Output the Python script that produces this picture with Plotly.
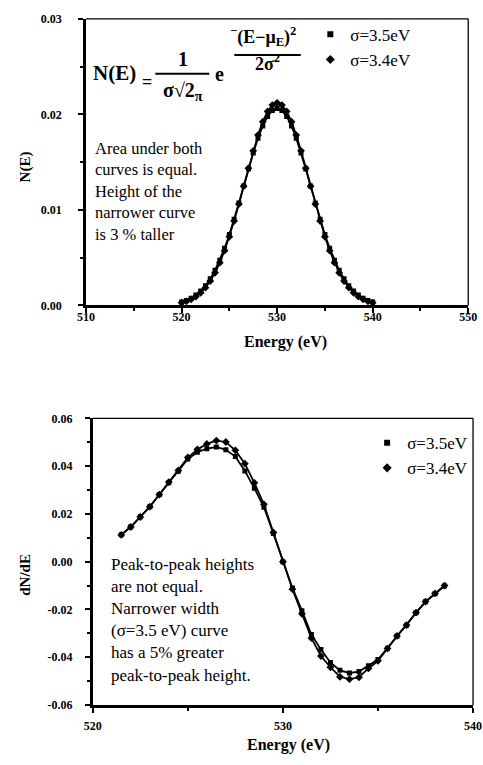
import plotly.graph_objects as go

# ---- data -------------------------------------------------------------
energy_top = [520.0, 520.5, 521.0, 521.5, 522.0, 522.5, 523.0, 523.5, 524.0, 524.5,
              525.0, 525.5, 526.0, 526.5, 527.0, 527.5, 528.0, 528.5, 529.0, 529.5,
              530.0, 530.5, 531.0, 531.5, 532.0, 532.5, 533.0, 533.5, 534.0, 534.5,
              535.0, 535.5, 536.0, 536.5, 537.0, 537.5, 538.0, 538.5, 539.0, 539.5,
              540.0]
n_sigma35 = [0.00035, 0.00052, 0.00076, 0.00108, 0.00151, 0.00207, 0.00279, 0.00367,
             0.00474, 0.00599, 0.00743, 0.00901, 0.01072, 0.01249, 0.01427, 0.01596,
             0.01750, 0.01879, 0.01978, 0.02039, 0.02060, 0.02039, 0.01978, 0.01879,
             0.01750, 0.01596, 0.01427, 0.01249, 0.01072, 0.00901, 0.00743, 0.00599,
             0.00474, 0.00367, 0.00279, 0.00207, 0.00151, 0.00108, 0.00076, 0.00052,
             0.00035]
n_sigma34 = [0.00028, 0.00043, 0.00064, 0.00093, 0.00133, 0.00186, 0.00255, 0.00341,
             0.00447, 0.00573, 0.00719, 0.00883, 0.01061, 0.01248, 0.01436, 0.01618,
             0.01783, 0.01923, 0.02030, 0.02097, 0.02120, 0.02097, 0.02030, 0.01923,
             0.01783, 0.01618, 0.01436, 0.01248, 0.01061, 0.00883, 0.00719, 0.00573,
             0.00447, 0.00341, 0.00255, 0.00186, 0.00133, 0.00093, 0.00064, 0.00043,
             0.00028]

energy_bottom = [521.5, 522.0, 522.5, 523.0, 523.5, 524.0, 524.5, 525.0, 525.5, 526.0,
                 526.5, 527.0, 527.5, 528.0, 528.5, 529.0, 529.5, 530.0, 530.5, 531.0,
                 531.5, 532.0, 532.5, 533.0, 533.5, 534.0, 534.5, 535.0, 535.5, 536.0,
                 536.5, 537.0, 537.5, 538.0, 538.5]
dn_sigma35 = [0.0113, 0.0146, 0.0188, 0.0230, 0.0280, 0.0330, 0.0378, 0.0430, 0.0458,
              0.0473, 0.0480, 0.0468, 0.0440, 0.0380, 0.0307, 0.0228, 0.0118, 0.0000,
              -0.0110, -0.0205, -0.0305, -0.0368, -0.0422, -0.0455, -0.0466, -0.0460,
              -0.0436, -0.0410, -0.0362, -0.0312, -0.0266, -0.0214, -0.0168, -0.0134,
              -0.0102]
dn_sigma34 = [0.0112, 0.0145, 0.0187, 0.0230, 0.0281, 0.0333, 0.0382, 0.0436, 0.0470,
              0.0493, 0.0507, 0.0501, 0.0466, 0.0410, 0.0330, 0.0240, 0.0122, 0.0000,
              -0.0115, -0.0218, -0.0320, -0.0395, -0.0442, -0.0482, -0.0492, -0.0484,
              -0.0447, -0.0415, -0.0364, -0.0311, -0.0266, -0.0213, -0.0167, -0.0133,
              -0.0100]

series_names = ["σ=3.5eV", "σ=3.4eV"]

top_xticks = [510, 520, 530, 540, 550]
top_yticks = [0.0, 0.01, 0.02, 0.03]
top_ytext = ["0.00", "0.01", "0.02", "0.03"]
bot_xticks = [520, 530, 540]
bot_yticks = [-0.06, -0.04, -0.02, 0.0, 0.02, 0.04, 0.06]
bot_ytext = ["-0.06", "-0.04", "-0.02", "0.00", "0.02", "0.04", "0.06"]

# ---- layout helpers -----------------------------------------------------
W, H = 483, 765
SERIF = "'Liberation Serif', 'Times New Roman', Times, serif"


def px(x, y):
    """pixel position -> paper fraction"""
    return x / W, 1 - y / H


fig = go.Figure()

line_style = dict(color="black", width=1.8)
sq = dict(symbol="square", size=5, color="black")
dm = dict(symbol="diamond", size=6, color="black")

# upper panel: N(E)
fig.add_trace(go.Scatter(x=energy_top, y=n_sigma35, mode="lines+markers", line=line_style,
                         marker=sq, showlegend=False, xaxis="x", yaxis="y"))
fig.add_trace(go.Scatter(x=energy_top, y=n_sigma34, mode="lines+markers", line=line_style,
                         marker=dm, showlegend=False, xaxis="x", yaxis="y"))
# lower panel: dN/dE
fig.add_trace(go.Scatter(x=energy_bottom, y=dn_sigma35, mode="lines+markers", line=line_style,
                         marker=sq, showlegend=False, xaxis="x2", yaxis="y2"))
fig.add_trace(go.Scatter(x=energy_bottom, y=dn_sigma34, mode="lines+markers", line=line_style,
                         marker=dm, showlegend=False, xaxis="x2", yaxis="y2"))

# legend entries (marker only)
for leg, xa, ya in (("legend", "x", "y"), ("legend2", "x2", "y2")):
    fig.add_trace(go.Scatter(x=[None], y=[None], mode="markers", marker=dict(sq, size=6),
                             name=series_names[0], legend=leg, xaxis=xa, yaxis=ya))
    fig.add_trace(go.Scatter(x=[None], y=[None], mode="markers", marker=dict(dm, size=7),
                             name=series_names[1], legend=leg, xaxis=xa, yaxis=ya))

tickfont = dict(family=SERIF, size=12, color="black", weight="bold")
common_axis = dict(showline=True, linecolor="black", linewidth=2.5, showgrid=False,
                   zeroline=False, ticks="outside", ticklen=5, tickwidth=1.5,
                   tickcolor="black", tickfont=tickfont, fixedrange=True,
                   ticklabeloverflow="allow")

fig.update_layout(
    width=W, height=H, margin=dict(l=0, r=0, t=0, b=0),
    paper_bgcolor="white", plot_bgcolor="white",
    font=dict(family=SERIF, color="black"),
    xaxis=dict(common_axis, domain=[80 / W, 477 / W], anchor="y", range=[510, 550],
               tickvals=top_xticks, ticklabelstandoff=-7,
               minor=dict(dtick=5, ticks="outside", ticklen=3, tickcolor="black")),
    yaxis=dict(common_axis, domain=[1 - 304 / H, 1 - 12 / H], anchor="x", range=[0, 0.03],
               tickvals=top_yticks, ticktext=top_ytext, ticklabelstandoff=14,
               minor=dict(dtick=0.005, ticks="outside", ticklen=3, tickcolor="black")),
    xaxis2=dict(common_axis, domain=[87 / W, 482 / W], anchor="y2", range=[520, 540],
                tickvals=bot_xticks, ticklabelstandoff=3,
                minor=dict(dtick=5, ticks="outside", ticklen=3, tickcolor="black")),
    yaxis2=dict(common_axis, domain=[1 - 711 / H, 1 - 419 / H], anchor="x2",
                range=[-0.06, 0.06], tickvals=bot_yticks, ticktext=bot_ytext,
                ticklabelstandoff=10,
                minor=dict(dtick=0.01, ticks="outside", ticklen=3, tickcolor="black")),
    legend=dict(x=px(313, 0)[0], y=px(0, 10)[1], xanchor="left", yanchor="top",
                font=dict(family=SERIF, size=17), bgcolor="rgba(0,0,0,0)",
                itemwidth=30, tracegroupgap=0),
    legend2=dict(x=px(372, 0)[0], y=px(0, 426)[1], xanchor="left", yanchor="top",
                 font=dict(family=SERIF, size=17), bgcolor="rgba(0,0,0,0)",
                 itemwidth=30, tracegroupgap=0),
)

# thin top/right frame lines of both panels
for xr, yr in (("x domain", "y domain"), ("x2 domain", "y2 domain")):
    fig.add_shape(type="line", xref=xr, yref=yr, x0=0, x1=1, y0=1, y1=1,
                  line=dict(color="black", width=1.3))
    fig.add_shape(type="line", xref=xr, yref=yr, x0=1, x1=1, y0=0, y1=1,
                  line=dict(color="black", width=1.3))


def text(x, y, s, size, bold=False, xanchor="center", yanchor="middle", align="center",
         angle=0):
    ax, ay = px(x, y)
    fig.add_annotation(x=ax, y=ay, xref="paper", yref="paper", text=s, showarrow=False,
                       xanchor=xanchor, yanchor=yanchor, align=align, textangle=angle,
                       borderpad=0,
                       font=dict(family=SERIF, size=size, color="black",
                                 weight="bold" if bold else "normal"))


def bar(x0, x1, y, w=2.2):
    a0, b0 = px(x0, y)
    a1, _ = px(x1, y)
    fig.add_shape(type="line", xref="paper", yref="paper", x0=a0, x1=a1, y0=b0, y1=b0,
                  line=dict(color="black", width=w))


# normal distribution formula
text(110, 67, "N(E)", 21, bold=True)
text(143, 76, "=", 18, bold=True)
text(181, 53, "1", 20, bold=True)
bar(152, 208, 68)
text(181, 86, "σ√2<sub>π</sub>", 20, bold=True)
text(219, 68, "e", 20, bold=True)
text(264, 30, "<sup>−</sup>(E−μ<sub>E</sub>)<sup>2</sup>", 18, bold=True)
bar(234, 303, 49, 2)
text(268, 57, "2σ<sup>2</sup>", 18, bold=True)

# panel notes
text(88, 188, "Area under both<br>curves is equal.<br>Height of the<br>narrower curve<br>is 3 % taller",
     16.5, xanchor="left", align="left")
text(105, 624, "Peak-to-peak heights<br>are not equal.<br>Narrower width<br>(σ=3.5 eV) curve<br>"
     "has a 5% greater<br>peak-to-peak height.", 17, xanchor="left", align="left")

# axis titles
text(17, 163, "N(E)", 15, bold=True, angle=-90)
text(17, 578, "dN/dE", 15, bold=True, angle=-90)
text(287, 341, "Energy (eV)", 16, bold=True)
text(290, 752, "Energy (eV)", 16, bold=True)

fig.write_html("out.html")
